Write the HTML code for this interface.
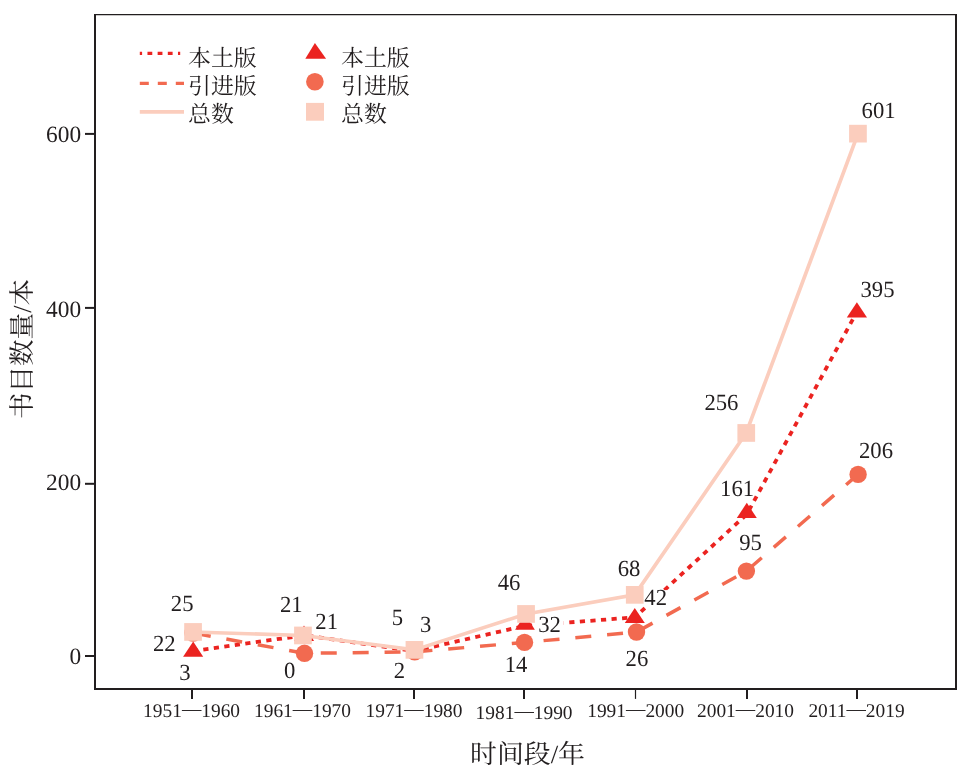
<!DOCTYPE html>
<html lang="zh"><head><meta charset="utf-8"><title>书目数量</title>
<style>html,body{margin:0;padding:0;background:#fff}svg{display:block}text{font-family:"Liberation Serif","Noto Serif CJK SC",serif;fill:#221E1F;text-rendering:geometricPrecision}</style></head><body>
<svg width="963" height="775" viewBox="0 0 963 775">
<rect width="963" height="775" fill="#fff"/>
<g stroke="#221E1F" fill="none">
<line x1="94" y1="14.55" x2="957" y2="14.55" stroke-width="1.2"/>
<line x1="95" y1="14" x2="95" y2="690" stroke-width="2"/>
<line x1="956" y1="14" x2="956" y2="690" stroke-width="2"/>
<line x1="94" y1="689" x2="957" y2="689" stroke-width="2"/>
<line x1="85" y1="656.0" x2="94" y2="656.0" stroke-width="2"/>
<line x1="85" y1="483.8" x2="94" y2="483.8" stroke-width="2"/>
<line x1="85" y1="307.9" x2="94" y2="307.9" stroke-width="2"/>
<line x1="85" y1="133.9" x2="94" y2="133.9" stroke-width="2"/>
<line x1="192" y1="690" x2="192" y2="698.9" stroke-width="2"/>
<line x1="304" y1="690" x2="304" y2="698.9" stroke-width="2"/>
<line x1="414" y1="690" x2="414" y2="698.9" stroke-width="2"/>
<line x1="524" y1="690" x2="524" y2="698.9" stroke-width="2"/>
<line x1="635.5" y1="690" x2="635.5" y2="698.9" stroke-width="1.2"/>
<line x1="747" y1="690" x2="747" y2="698.9" stroke-width="2"/>
<line x1="857" y1="690" x2="857" y2="698.9" stroke-width="2"/>
</g>
<text transform="translate(81.2,664.0) scale(1,1.0)" font-size="23.4" text-anchor="end">0</text>
<text transform="translate(81.2,490.1) scale(1,1.0)" font-size="23.4" text-anchor="end">200</text>
<text transform="translate(81.2,317.0) scale(1,1.0)" font-size="23.4" text-anchor="end">400</text>
<text transform="translate(81.2,142.2) scale(1,1.0)" font-size="23.4" text-anchor="end">600</text>
<text x="191.6" y="716.8" font-size="19.4" text-anchor="middle">1951<tspan dy="-1.9">—</tspan><tspan dy="1.9">1960</tspan></text>
<text x="302.5" y="716.8" font-size="19.4" text-anchor="middle">1961<tspan dy="-1.9">—</tspan><tspan dy="1.9">1970</tspan></text>
<text x="414.0" y="716.8" font-size="19.4" text-anchor="middle">1971<tspan dy="-1.9">—</tspan><tspan dy="1.9">1980</tspan></text>
<text x="524.1" y="718.6" font-size="19.4" text-anchor="middle">1981<tspan dy="-1.9">—</tspan><tspan dy="1.9">1990</tspan></text>
<text x="635.7" y="716.8" font-size="19.4" text-anchor="middle">1991<tspan dy="-1.9">—</tspan><tspan dy="1.9">2000</tspan></text>
<text x="745.5" y="716.8" font-size="19.4" text-anchor="middle">2001<tspan dy="-1.9">—</tspan><tspan dy="1.9">2010</tspan></text>
<text x="856.5" y="716.8" font-size="19.4" text-anchor="middle">2011<tspan dy="-1.9">—</tspan><tspan dy="1.9">2019</tspan></text>
<text x="527.5" y="763" font-size="26" text-anchor="middle" textLength="115" lengthAdjust="spacingAndGlyphs">时间段/年</text>
<text transform="translate(31,349) rotate(-90)" font-size="26" text-anchor="middle" textLength="140.2" lengthAdjust="spacingAndGlyphs">书目数量/本</text>
<polyline points="193.2,651.0 304.0,635.4 414.3,651.0 524.8,625.9 634.8,617.3 746.8,514.3 856.9,311.8" fill="none" stroke="#EB2320" stroke-width="3.8" stroke-dasharray="5.2 5.4" stroke-dashoffset="0.4"/>
<polygon points="193.2,641.5 183.1,656.8 203.2,656.8" fill="#EB2320"/>
<polygon points="304.0,625.5 293.9,640.9 314.1,640.9" fill="#EB2320"/>
<polygon points="414.4,643.5 406.9,655.5 421.9,655.5" fill="#EB2320"/>
<polygon points="525.0,614.4 515.1,629.7 534.9,629.7" fill="#EB2320"/>
<polygon points="634.8,607.9 624.8,622.9 644.8,622.9" fill="#EB2320"/>
<polygon points="746.8,502.8 736.8,518.0 756.8,518.0" fill="#EB2320"/>
<polygon points="856.9,302.2 846.8,317.6 867.0,317.6" fill="#EB2320"/>
<polyline points="193.0,633.0 304.5,653.3 414.7,651.9 524.5,642.4 636.5,632.0 746.4,571.1 858.1,474.4" fill="none" stroke="#F26A50" stroke-width="3.5" stroke-dasharray="16 15.9" stroke-dashoffset="29.9"/>
<circle cx="193.0" cy="633.0" r="8.7" fill="#F26A50"/>
<circle cx="304.5" cy="653.3" r="8.7" fill="#F26A50"/>
<circle cx="414.7" cy="651.9" r="8.7" fill="#F26A50"/>
<circle cx="524.5" cy="642.4" r="8.7" fill="#F26A50"/>
<circle cx="636.5" cy="632.0" r="8.7" fill="#F26A50"/>
<circle cx="746.4" cy="571.1" r="8.7" fill="#F26A50"/>
<circle cx="858.1" cy="474.4" r="8.7" fill="#F26A50"/>
<polyline points="193.0,632.0 303.0,635.5 414.5,649.9 526.1,614.0 634.8,594.9 746.2,433.0 858.0,133.6" fill="none" stroke="#FBCDBD" stroke-width="3.7"/>
<rect x="184.2" y="623.1" width="17.7" height="17.7" fill="#FBCDBD"/>
<rect x="294.1" y="626.6" width="17.7" height="17.7" fill="#FBCDBD"/>
<rect x="405.6" y="641.0" width="17.7" height="17.7" fill="#FBCDBD"/>
<rect x="517.2" y="605.1" width="17.7" height="17.7" fill="#FBCDBD"/>
<rect x="625.9" y="586.0" width="17.7" height="17.7" fill="#FBCDBD"/>
<rect x="737.4" y="424.1" width="17.7" height="17.7" fill="#FBCDBD"/>
<rect x="849.1" y="124.8" width="17.7" height="17.7" fill="#FBCDBD"/>
<rect x="536" y="615.6" width="27.8" height="16.8" fill="#fff"/>
<rect x="644" y="590.1" width="23.5" height="16.1" fill="#fff"/>
<text transform="translate(182.2,610.7) scale(1,1.02)" font-size="22.7" text-anchor="middle">25</text>
<text transform="translate(164.3,651.2) scale(1,1.02)" font-size="22.7" text-anchor="middle">22</text>
<text transform="translate(184.8,679.7) scale(1,1.02)" font-size="22.7" text-anchor="middle">3</text>
<text transform="translate(291.3,612.1) scale(1,1.02)" font-size="22.7" text-anchor="middle">21</text>
<text transform="translate(326.7,629.2) scale(1,1.02)" font-size="22.7" text-anchor="middle">21</text>
<text transform="translate(289.6,677.7) scale(1,1.02)" font-size="22.7" text-anchor="middle">0</text>
<text transform="translate(397.4,624.5) scale(1,1.02)" font-size="22.7" text-anchor="middle">5</text>
<text transform="translate(425.7,631.6) scale(1,1.02)" font-size="22.7" text-anchor="middle">3</text>
<text transform="translate(399.4,677.5) scale(1,1.02)" font-size="22.7" text-anchor="middle">2</text>
<text transform="translate(509.1,590.2) scale(1,1.02)" font-size="22.7" text-anchor="middle">46</text>
<text transform="translate(549.5,631.6) scale(1,1.02)" font-size="22.7" text-anchor="middle">32</text>
<text transform="translate(516.1,672.3) scale(1,1.02)" font-size="22.7" text-anchor="middle">14</text>
<text transform="translate(629.1,576.3) scale(1,1.02)" font-size="22.7" text-anchor="middle">68</text>
<text transform="translate(655.7,605.4) scale(1,1.02)" font-size="22.7" text-anchor="middle">42</text>
<text transform="translate(636.9,665.8) scale(1,1.02)" font-size="22.7" text-anchor="middle">26</text>
<text transform="translate(721.4,409.6) scale(1,1.02)" font-size="22.7" text-anchor="middle">256</text>
<text transform="translate(737.1,496.1) scale(1,1.02)" font-size="22.7" text-anchor="middle">161</text>
<text transform="translate(750.5,549.8) scale(1,1.02)" font-size="22.7" text-anchor="middle">95</text>
<text transform="translate(878.6,117.9) scale(1,1.02)" font-size="22.7" text-anchor="middle">601</text>
<text transform="translate(877.5,296.6) scale(1,1.02)" font-size="22.7" text-anchor="middle">395</text>
<text transform="translate(876.0,457.7) scale(1,1.02)" font-size="22.7" text-anchor="middle">206</text>
<line x1="139.8" y1="53.4" x2="180.2" y2="53.4" stroke="#EB2320" stroke-width="3.1" stroke-dasharray="4.8 5.37" stroke-dashoffset="2.5"/>
<line x1="139.8" y1="83.3" x2="184" y2="83.3" stroke="#F26A50" stroke-width="3.3" stroke-dasharray="9 9"/>
<line x1="139.8" y1="111.9" x2="184" y2="111.9" stroke="#FBCDBD" stroke-width="3.6"/>
<polygon points="314.9,43.1 305.3,58.8 326.1,58.8" fill="#EB2320"/>
<circle cx="314.9" cy="81.7" r="8.8" fill="#F26A50"/>
<rect x="306" y="102.9" width="18" height="17.8" fill="#FBCDBD"/>
<text x="188.1" y="65.5" font-size="22.9">本土版</text>
<text x="341.1" y="65.5" font-size="22.9">本土版</text>
<text x="188.1" y="93.5" font-size="22.9">引进版</text>
<text x="341.1" y="93.5" font-size="22.9">引进版</text>
<text x="188.1" y="121.5" font-size="22.9">总数</text>
<text x="341.1" y="121.5" font-size="22.9">总数</text>
</svg></body></html>
